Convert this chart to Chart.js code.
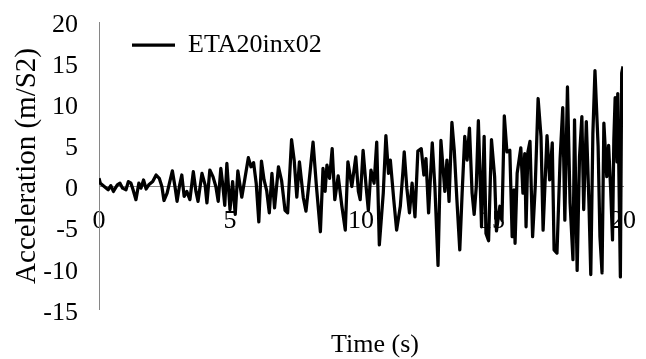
<!DOCTYPE html>
<html>
<head>
<meta charset="utf-8">
<script src="https://cdn.jsdelivr.net/npm/chart.js@4.4.1/dist/chart.umd.min.js"></script>
<style>
  html, body { margin: 0; padding: 0; background: #fff; }
  canvas { display: block; }
</style>
</head>
<body>
<canvas id="acc" width="646" height="359"></canvas>
<script>
const seriesName = "ETA20inx02";

// time (s) of each read point, one row per second
const timeSec = [
  0.00, 0.05, 0.20, 0.35, 0.45, 0.55, 0.70, 0.80, 0.90,
  1.03, 1.12, 1.22, 1.30, 1.41, 1.52, 1.60, 1.70, 1.80, 1.90,
  2.05, 2.18, 2.30, 2.40, 2.48, 2.60, 2.68, 2.80, 2.90, 2.98,
  3.08, 3.16, 3.25, 3.35, 3.47, 3.60, 3.70, 3.78, 3.93,
  4.05, 4.12, 4.23, 4.35, 4.46, 4.55, 4.65, 4.73, 4.80, 4.88,
  5.00, 5.10, 5.20, 5.30, 5.45, 5.55, 5.70, 5.80, 5.90,
  6.00, 6.10, 6.20, 6.30, 6.40, 6.50, 6.60, 6.70, 6.85, 6.97,
  7.10, 7.20, 7.35, 7.45, 7.55, 7.65, 7.80, 7.90,
  8.00, 8.17, 8.30, 8.45, 8.55, 8.63, 8.70, 8.80, 8.90,
  9.00, 9.13, 9.27, 9.40, 9.50, 9.65, 9.80, 9.90, 9.97,
  10.08, 10.20, 10.28, 10.38, 10.50, 10.60, 10.70, 10.85, 10.95,
  11.05, 11.12, 11.25, 11.36, 11.50, 11.60, 11.65, 11.75, 11.85, 11.95,
  12.06, 12.17, 12.30, 12.40, 12.48, 12.58, 12.72, 12.82, 12.94,
  13.05, 13.20, 13.28, 13.36, 13.47, 13.56, 13.66, 13.77, 13.86, 13.96,
  14.05, 14.14, 14.24, 14.32, 14.40, 14.48, 14.60, 14.70, 14.77, 14.87, 14.98,
  15.10, 15.17, 15.30, 15.38, 15.47, 15.57, 15.68, 15.77, 15.84, 15.88, 15.96,
  16.10, 16.18, 16.25, 16.30, 16.37, 16.45, 16.55, 16.65, 16.76, 16.87, 16.95,
  17.10, 17.20, 17.30, 17.37, 17.48, 17.60, 17.70, 17.78, 17.88, 17.98,
  18.09, 18.15, 18.25, 18.34, 18.43, 18.50, 18.60, 18.70, 18.77, 18.85, 18.93,
  19.05, 19.12, 19.20, 19.27, 19.38, 19.45, 19.53, 19.60, 19.65, 19.70, 19.77, 19.80, 19.90, 19.95, 20.00
];

// acceleration (m/s2) at those times
const accel = [
  1.0, 0.4, 0.0, -0.4, 0.1, -0.6, 0.2, 0.4, -0.2,
  -0.4, 0.6, 0.4, -0.4, -1.6, 0.4, -0.2, 0.8, -0.3, 0.2,
  0.6, 1.4, 1.0, 0.0, -1.7, -0.8, 0.3, 1.9, 0.0, -1.8,
  0.2, 1.4, -1.2, -0.6, -1.6, 1.8, -0.6, -1.8, 1.6,
  0.2, -2.0, 2.0, 1.2, 0.0, -1.8, 2.2, 0.0, -2.3, 2.8,
  -2.8, 0.6, -3.4, 1.9, -1.3, 0.6, 3.5, 2.4, 2.9,
  0.4, -4.3, 3.1, 0.8, -0.5, -3.2, 1.6, -2.6, 2.4, 0.7,
  -2.9, -3.2, 5.7, 3.2, -1.3, 3.0, -1.4, -3.0,
  0.0, 5.4, 0.0, -5.5, 2.2, -0.6, 2.6, 1.0, 4.6,
  -1.6, 1.3, -2.4, -5.3, 3.0, 0.0, 3.6, -0.6, -1.6,
  4.4, -0.2, -2.9, 2.0, 0.4, 5.4, -7.1, -0.8, 6.2,
  1.6, 3.2, -1.6, -5.3, -2.4, 1.8, 4.2, -0.2, -3.2, 0.4,
  -3.7, 4.3, 4.6, 1.4, 3.4, -3.2, 5.3, 0.0, -9.6,
  5.6, -0.6, 3.2, -1.8, 7.8, 4.4, -1.6, -7.7, -0.8, 6.1,
  3.2, 7.1, -0.8, -3.4, 0.0, 8.0, -4.9, 6.1, -5.7, -6.6, 5.7,
  1.2, -5.4, -2.4, -4.1, 8.6, 4.2, 4.4, -6.1, -0.4, -6.9, 1.6,
  4.7, -0.8, 4.0, -4.9, 4.2, 5.5, -6.1, 0.0, 10.7, 6.1, -5.3,
  6.2, 0.8, 5.3, -7.7, -8.1, 3.4, 9.6, -4.1, 12.1, -2.0,
  -8.9, 8.1, -10.2, 3.6, 8.5, -2.8, 7.9, -2.0, -10.7, 6.4, 14.1,
  4.9, -6.1, -10.5, 7.7, 1.2, 5.0, -0.4, -6.5, 5.7, 10.8, 3.0, 11.3, -11.0, 13.8, 14.6
];

const xTicks = [0, 5, 10, 15, 20];
const yTicks = [-15, -10, -5, 0, 5, 10, 15, 20];

const serif = "'Liberation Serif', 'Times New Roman', serif";
const axisGray = "#868686";
Chart.defaults.font.family = serif;
Chart.defaults.color = "#000";

// Excel puts the legend a bit further in and the x title a bit right of centre
const boxNudge = {
  id: "boxNudge",
  afterLayout(chart) {
    if (chart.legend) {
      chart.legend.left += 23;
      chart.legend.top = chart.chartArea.top;
    }
    if (chart.titleBlock) {
      chart.titleBlock.left += 14;
      chart.titleBlock.right += 14;
    }
  }
};

new Chart(document.getElementById("acc"), {
  type: "line",
  data: {
    datasets: [{
      label: seriesName,
      data: timeSec.map((t, i) => ({ x: t, y: accel[i] })),
      borderColor: "#000",
      backgroundColor: "#000",
      borderWidth: 3.25,
      borderJoinStyle: "round",
      pointRadius: 0,
      pointStyle: "line",
      tension: 0
    }]
  },
  options: {
    responsive: false,
    animation: false,
    layout: { padding: { left: 0, right: 23, top: 22, bottom: 0 } },
    scales: {
      x: {
        type: "linear",
        min: 0,
        max: 20,
        position: { y: 0 },
        afterBuildTicks: s => { s.ticks = xTicks.map(v => ({ value: v })); },
        ticks: { font: { size: 26 }, color: "#000", padding: 0, maxRotation: 0 },
        grid: { display: false, drawTicks: true, tickLength: 19 },
        border: { color: axisGray, width: 1 }
      },
      y: {
        min: -15,
        max: 20,
        afterBuildTicks: s => { s.ticks = yTicks.map(v => ({ value: v })); },
        afterFit: s => { s.width = 99; },
        ticks: { font: { size: 26 }, color: "#000", padding: 0, labelOffset: 3 },
        grid: { display: false, drawTicks: true, tickLength: 21 },
        border: { color: axisGray, width: 1 },
        title: {
          display: true,
          text: "Acceleration (m/S2)",
          font: { size: 29 },
          color: "#000",
          padding: { top: 10, bottom: 0 }
        }
      }
    },
    plugins: {
      legend: {
        position: "chartArea",
        fullSize: false,
        align: "start",
        labels: {
          usePointStyle: true,
          pointStyleWidth: 43,
          padding: 10,
          font: { size: 26 },
          color: "#000"
        }
      },
      title: {
        display: true,
        position: "bottom",
        fullSize: false,
        text: "Time (s)",
        font: { size: 26, weight: "normal", lineHeight: 1.1 },
        color: "#000",
        padding: { top: 20.5, bottom: 0 }
      },
      tooltip: { enabled: false }
    }
  },
  plugins: [boxNudge]
});
</script>
</body>
</html>
